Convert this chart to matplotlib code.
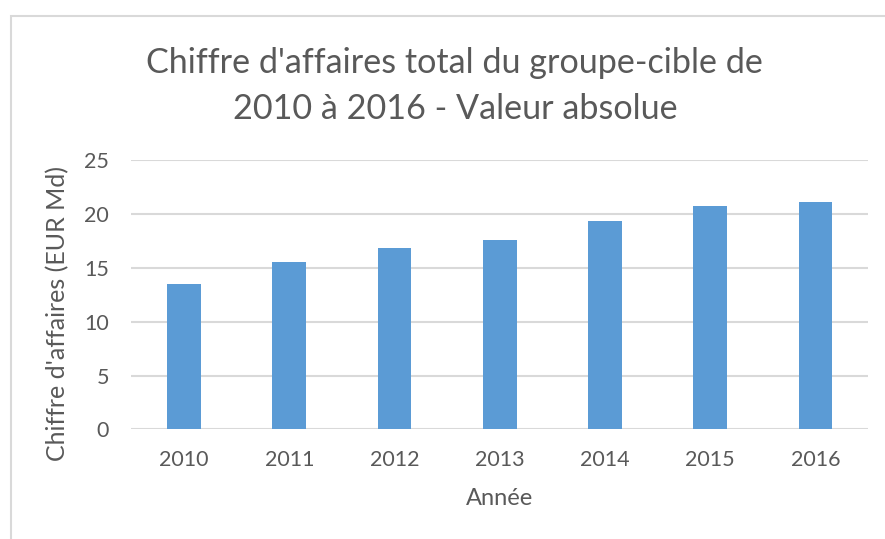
import matplotlib.pyplot as plt
from matplotlib.patches import Rectangle

annees = ["2010", "2011", "2012", "2013", "2014", "2015", "2016"]
chiffre = [13.5, 15.55, 16.8, 17.6, 19.35, 20.7, 21.1]
y_ticks = [0, 5, 10, 15, 20, 25]

plt.rcParams['font.family'] = ['Lato', 'DejaVu Sans']
text_col = '#595959'
grid_col = '#d9d9d9'

fig = plt.figure(figsize=(8.85, 5.39), dpi=100)
ax = fig.add_axes([0.1485, 0.2032, 0.8325, 0.5])

x = range(len(annees))
ax.bar(x, chiffre, width=0.32, color='#5b9bd5', zorder=3)

ax.set_xlim(-0.5, len(annees) - 0.5)
ax.set_ylim(0, 25)
ax.set_yticks(y_ticks)
ax.set_xticks(list(x))
ax.set_xticklabels(annees)
ax.yaxis.grid(True, color=grid_col, linewidth=1.5, zorder=0)
ax.axhline(0, color=grid_col, linewidth=2, zorder=2)
for s in ax.spines.values():
    s.set_visible(False)
ax.tick_params(length=0, labelsize=15.5, labelcolor=text_col)
ax.tick_params(axis='x', pad=15)
ax.tick_params(axis='y', pad=16)

ax.set_xlabel("Année", fontsize=17, color=text_col, labelpad=13)
ax.set_ylabel("Chiffre d'affaires (EUR Md)", fontsize=18, color=text_col)
ax.yaxis.set_label_coords(-0.085, 0.43)

fig.text(0.514, 0.84, "Chiffre d'affaires total du groupe-cible de\n2010 à 2016 - Valeur absolue",
         ha='center', va='center', fontsize=24.6, color=text_col, linespacing=1.55)

fig.patches.append(Rectangle((11 / 885, -0.1), 1.2, 1 - 16 / 539 + 0.1,
                             transform=fig.transFigure, fill=False,
                             edgecolor=grid_col, linewidth=1.5))

fig.savefig("out.png", dpi=100)
